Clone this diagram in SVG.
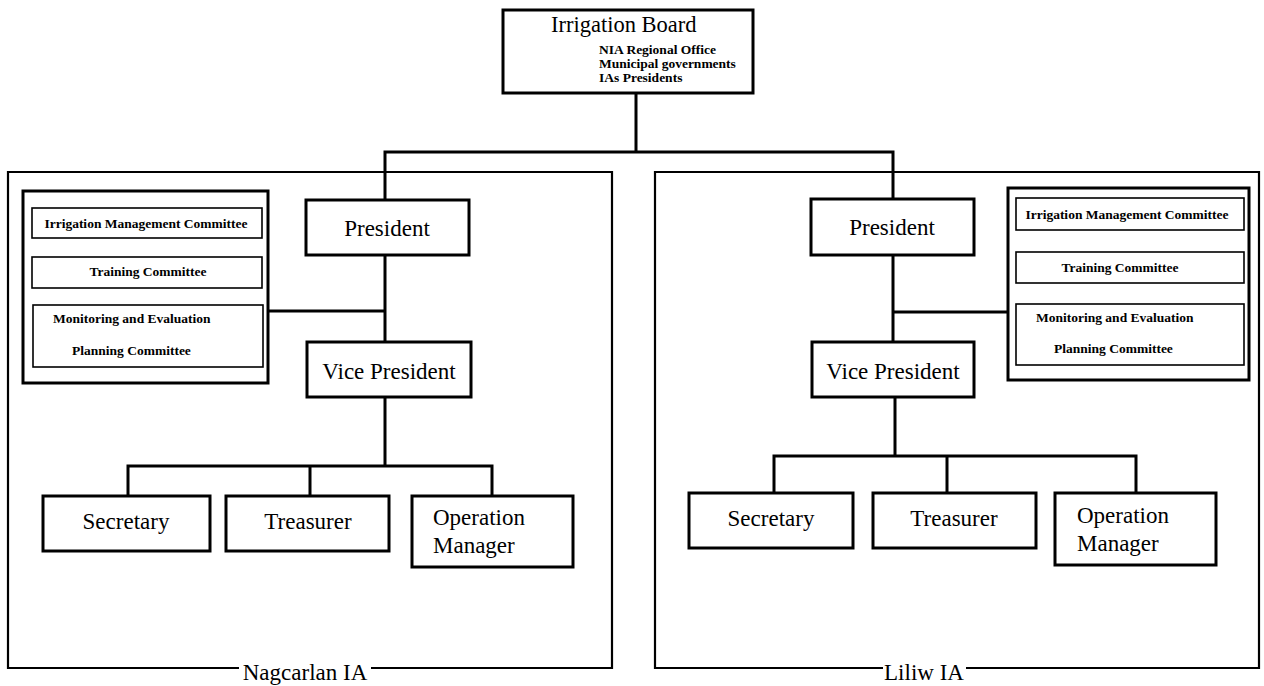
<svg xmlns="http://www.w3.org/2000/svg" width="1264" height="686" viewBox="0 0 1264 686">
<style>
text{font-family:"Liberation Serif","Times New Roman",serif;fill:#000}
.box{fill:#fff;stroke:#000;stroke-width:3}
.grp{fill:#fff;stroke:#000;stroke-width:3}
.cbox{fill:#fff;stroke:#000;stroke-width:1.6}
.outer{fill:none;stroke:#000;stroke-width:2.2}
.ln{fill:none;stroke:#000;stroke-width:3}
.big{font-size:23px}
.lbl{font-size:23px}
.sm{font-size:13.5px;font-weight:bold}
.cm{font-size:13.5px;font-weight:bold}
</style>
<rect width="1264" height="686" fill="#fff"/>

<g id="connectors">
<path class="ln" d="M636 92V152M385 200V152H893V200"/>
<path class="ln" d="M385 255V342M268 311H385"/>
<path class="ln" d="M385 397V466M128 496V466H492V496M310 466V496"/>
<path class="ln" d="M893 255V342M893 312H1008"/>
<path class="ln" d="M895 397V456M774 493V456H1136V493M947 456V493"/>
</g>

<g id="nagcarlan-ia">
<path class="outer" d="M239 668H8V172H612V668H371"/>
<text class="lbl" x="305" y="680" text-anchor="middle">Nagcarlan IA</text>
</g>
<g id="liliw-ia">
<path class="outer" d="M883 668H655V172H1259V668H966"/>
<text class="lbl" x="924" y="680" text-anchor="middle">Liliw IA</text>
</g>

<g id="irrigation-board">
<rect class="box" x="503" y="10" width="250" height="83"/>
<text x="551" y="32" style="font-size:22.5px">Irrigation Board</text>
<text class="sm" x="599" y="54">NIA Regional Office</text>
<text class="sm" x="599" y="68">Municipal governments</text>
<text class="sm" x="599" y="82">IAs Presidents</text>
</g>

<g id="n-committees">
<rect class="grp" x="23" y="191" width="245" height="192"/>
<rect class="cbox" x="32" y="208" width="230" height="30"/>
<text class="cm" x="146" y="228" text-anchor="middle">Irrigation Management Committee</text>
<rect class="cbox" x="32" y="257" width="230" height="31"/>
<text class="cm" x="148" y="276" text-anchor="middle">Training Committee</text>
<rect class="cbox" x="33" y="305" width="230" height="62"/>
<text class="cm" x="53" y="323">Monitoring and Evaluation</text>
<text class="cm" x="72" y="355">Planning Committee</text>
</g>
<g id="n-president">
<rect class="box" x="306" y="200" width="163" height="55"/>
<text class="big" x="387" y="236" text-anchor="middle">President</text>
</g>
<g id="n-vice-president">
<rect class="box" x="307" y="342" width="164" height="55"/>
<text class="big" x="389" y="379" text-anchor="middle">Vice President</text>
</g>
<g id="n-secretary">
<rect class="box" x="43" y="496" width="167" height="55"/>
<text class="big" x="126" y="529" text-anchor="middle">Secretary</text>
</g>
<g id="n-treasurer">
<rect class="box" x="226" y="496" width="163" height="55"/>
<text class="big" x="308" y="529" text-anchor="middle">Treasurer</text>
</g>
<g id="n-operation-manager">
<rect class="box" x="412" y="496" width="161" height="71"/>
<text class="big" x="433" y="525">Operation</text>
<text class="big" x="433" y="553">Manager</text>
</g>

<g id="l-committees">
<rect class="grp" x="1008" y="188" width="241" height="192"/>
<rect class="cbox" x="1016" y="198" width="228" height="32"/>
<text class="cm" x="1127" y="219" text-anchor="middle">Irrigation Management Committee</text>
<rect class="cbox" x="1016" y="252" width="228" height="31"/>
<text class="cm" x="1120" y="272" text-anchor="middle">Training Committee</text>
<rect class="cbox" x="1016" y="304" width="228" height="61"/>
<text class="cm" x="1036" y="322">Monitoring and Evaluation</text>
<text class="cm" x="1054" y="353">Planning Committee</text>
</g>
<g id="l-president">
<rect class="box" x="811" y="199" width="163" height="56"/>
<text class="big" x="892" y="235" text-anchor="middle">President</text>
</g>
<g id="l-vice-president">
<rect class="box" x="812" y="342" width="162" height="55"/>
<text class="big" x="893" y="379" text-anchor="middle">Vice President</text>
</g>
<g id="l-secretary">
<rect class="box" x="689" y="493" width="164" height="55"/>
<text class="big" x="771" y="526" text-anchor="middle">Secretary</text>
</g>
<g id="l-treasurer">
<rect class="box" x="873" y="493" width="163" height="55"/>
<text class="big" x="954" y="526" text-anchor="middle">Treasurer</text>
</g>
<g id="l-operation-manager">
<rect class="box" x="1055" y="493" width="161" height="72"/>
<text class="big" x="1077" y="523">Operation</text>
<text class="big" x="1077" y="551">Manager</text>
</g>
</svg>
